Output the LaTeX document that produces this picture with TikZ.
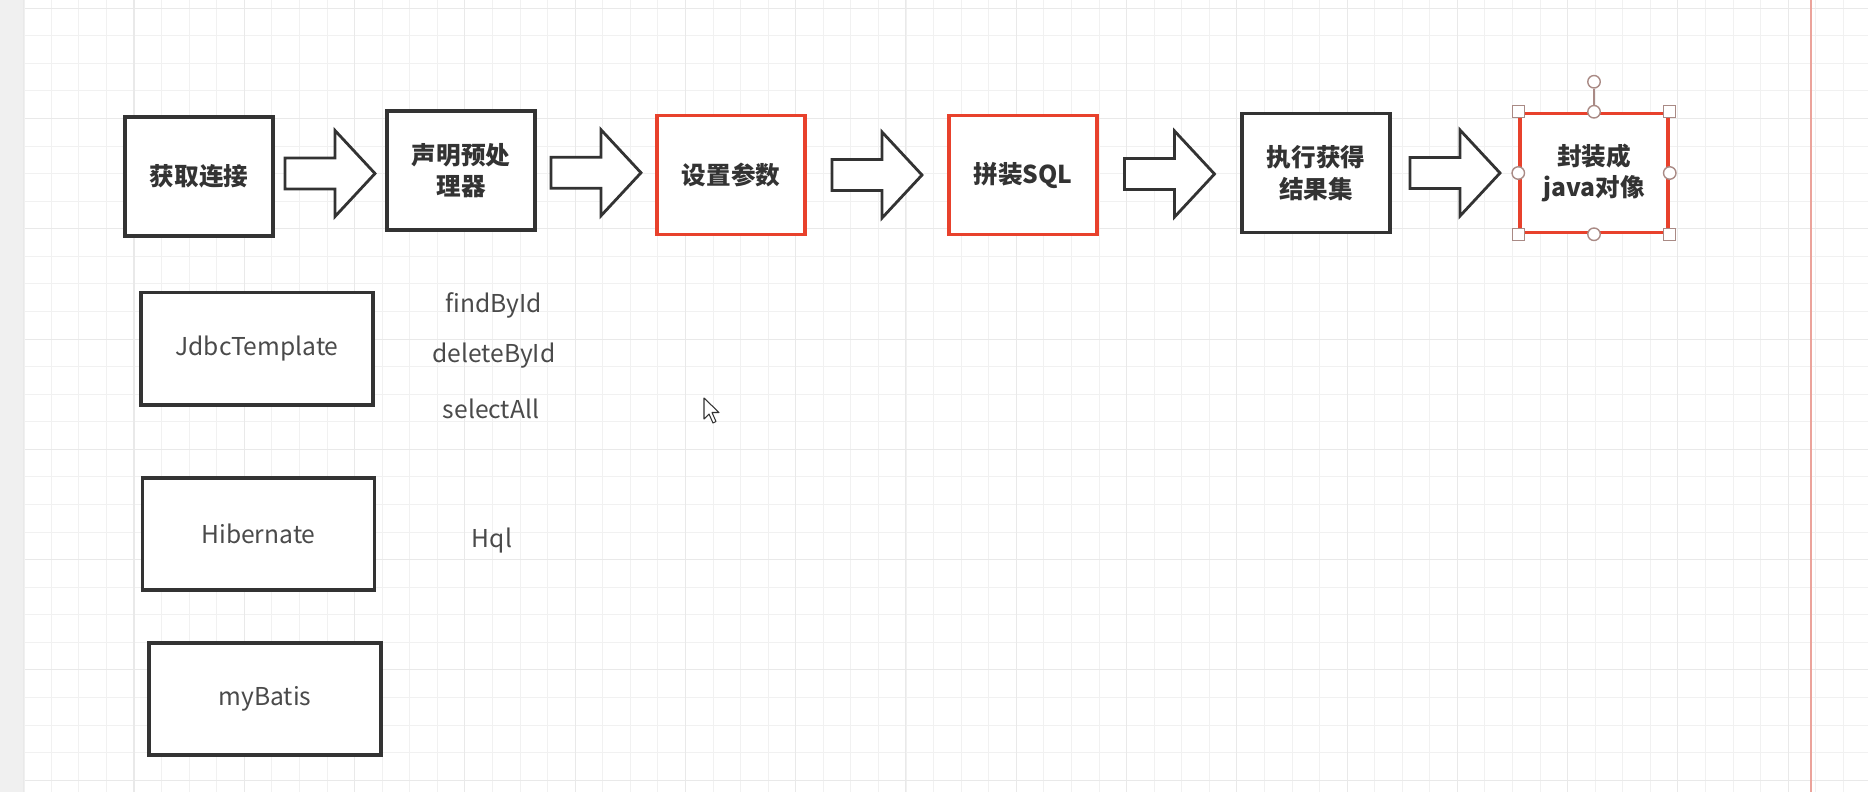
\documentclass[tikz,border=0pt]{standalone}
\usepackage{fontspec}
\setmainfont{Noto Sans CJK SC}
\usetikzlibrary{calc}

\definecolor{inkgray}{HTML}{333333}
\definecolor{softink}{HTML}{4A4A4A}
\definecolor{boxred}{HTML}{E8412C}
\definecolor{gridline}{HTML}{F1F1F1}
\definecolor{gridmajor}{HTML}{E9E9E9}
\definecolor{handle}{HTML}{A98A85}
\definecolor{guide}{HTML}{EBA39B}
\definecolor{panel}{HTML}{F0F0F0}

\begin{document}
\begin{tikzpicture}[x=0.02cm, y=-0.02cm,
   every node/.style={text=inkgray},
   stepbox/.style={draw=inkgray, line width=2pt, fill=white,
      minimum width=2.96cm, minimum height=2.38cm, align=center,
      font=\fontsize{14}{18}\selectfont\bfseries},
   redbox/.style={stepbox, draw=boxred},
   toolbox/.style={draw=inkgray, line width=2pt, fill=white, text=softink,
      minimum width=4.64cm, minimum height=2.25cm,
      font=\fontsize{14}{17}\selectfont},
   method/.style={text=softink, font=\fontsize{14}{17}\selectfont},
   fatarrow/.pic={\draw[inkgray, line width=1.6pt, fill=white, line join=miter]
      (-45,-15.5) -- (5,-15.5) -- (5,-43) -- (45,0) -- (5,43) -- (5,15.5)
      -- (-45,15.5) -- cycle;},
   handlebox/.style={draw=handle, fill=white, line width=0.8pt,
      minimum size=0.24cm, inner sep=0pt},
   handledot/.style={handlebox, circle, minimum size=0.25cm}]

\useasboundingbox (0,0) rectangle (1868,792);

% canvas
\fill[white] (0,0) rectangle (1868,792);
\fill[panel] (0,0) rectangle (25,792);
\foreach \i in {0,...,67}
   \draw[gridline, line width=0.5pt] ({23.7+27.57*\i},0) -- ({23.7+27.57*\i},792);
\foreach \j in {0,...,28}
   \draw[gridline, line width=0.5pt] (25,{8.2+27.57*\j}) -- (1868,{8.2+27.57*\j});
\foreach \i in {0,...,16}
   \draw[gridmajor, line width=0.6pt] ({23.7+110.28*\i},0) -- ({23.7+110.28*\i},792);
\foreach \j in {0,...,7}
   \draw[gridmajor, line width=0.6pt] (25,{8.2+110.28*\j}) -- (1868,{8.2+110.28*\j});
\draw[guide, line width=1.2pt] (1811,0) -- (1811,792);

% steps
\node[stepbox] (conn)  at (199,176.5) {获取连接};
\node[stepbox] (prep)  at (461,170.5) {声明预处\\理器};
\node[redbox]  (param) at (731,175)   {设置参数};
\node[redbox]  (sql)   at (1023,175)  {拼装SQL};
\node[stepbox] (exec)  at (1316,173)  {执行获得\\结果集};
\node[redbox]  (wrap)  at (1594,173)  {封装成\\java对像};

\foreach \a/\b in {conn/prep, prep/param, param/sql, sql/exec, exec/wrap}
   \pic at ($(\a.east)!0.5!(\b.west)$) {fatarrow};

% selection handles
\node[handledot] (rot) at ($(wrap.north)+(0,-30)$) {};
\draw[handle, line width=0.8pt] (wrap.north) -- (rot);
\foreach \c/\n in {north west/nw, north east/ne, south west/sw, south east/se}
   \node[handlebox] (h\n) at (wrap.\c) {};
\foreach \c/\n in {north/n, south/s, east/e, west/w}
   \node[handledot] (h\n) at (wrap.\c) {};

% tools
\node[toolbox] (jdbc)    at (257,348.5) {JdbcTemplate};
\node[toolbox] (hiber)   at (258.5,534) {Hibernate};
\node[toolbox] (mybatis) at (265,699)   {myBatis};

\node[method] (find)   at (494,305) {findById};
\node[method] (delete) at (494,356) {deleteById};
\node[method] (select) at (491,409) {selectAll};
\node[method] (hql)    at (492,541) {Hql};

% mouse pointer
\draw[inkgray, fill=white, line width=0.6pt, line join=round]
   (704,398) -- ++(0,21) -- ++(5,-5) -- ++(4,9) -- ++(3,-1.5) -- ++(-4,-9)
   -- ++(7,0) -- cycle;

\end{tikzpicture}
\end{document}
